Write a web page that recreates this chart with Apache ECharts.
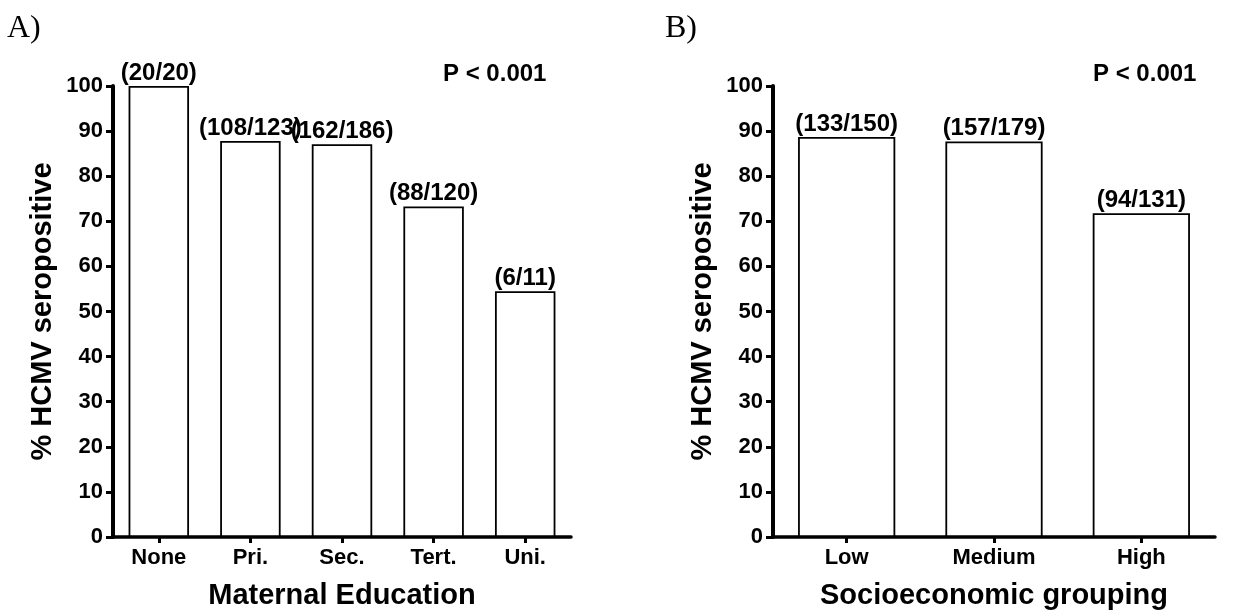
<!DOCTYPE html>
<html>
<head>
<meta charset="utf-8">
<script src="https://cdn.jsdelivr.net/npm/echarts@6/dist/echarts.min.js"></script>
<style>
html,body{margin:0;padding:0;background:#fff;}
#chart{width:1240px;height:615px;}
</style>
</head>
<body>
<div id="chart"></div>
<script>
// Panel A: maternal education
const eduCats = ['None', 'Pri.', 'Sec.', 'Tert.', 'Uni.'];
const eduPct = [100, 87.8, 87.1, 73.3, 54.5];
const eduLabels = ['(20/20)', '(108/123)', '(162/186)', '(88/120)', '(6/11)'];
// Panel B: socioeconomic grouping
const sesCats = ['Low', 'Medium', 'High'];
const sesPct = [88.7, 87.7, 71.8];
const sesLabels = ['(133/150)', '(157/179)', '(94/131)'];
const yTicks = [0, 10, 20, 30, 40, 50, 60, 70, 80, 90, 100];

const FONT = '"Liberation Sans", Arial, Helvetica, sans-serif';
const chart = echarts.init(document.getElementById('chart'), null, {renderer: 'canvas'});

function yAxisCfg(gridIndex) {
  return {
    type: 'value', gridIndex: gridIndex, min: yTicks[0], max: yTicks[yTicks.length - 1], interval: 10,
    name: '% HCMV seropositive', nameLocation: 'middle', nameGap: 56,
    nameTextStyle: {fontFamily: FONT, fontWeight: 'bold', fontSize: 29, color: '#000'},
    axisLine: {show: true, lineStyle: {color: '#000', width: 4}},
    axisTick: {show: true, length: 7, lineStyle: {color: '#000', width: 3}},
    axisLabel: {fontFamily: FONT, fontWeight: 'bold', fontSize: 22, color: '#000', margin: 10},
    splitLine: {show: false}
  };
}
function xAxisCfg(gridIndex, cats, name) {
  return {
    type: 'category', gridIndex: gridIndex, data: cats,
    name: name, nameLocation: 'middle', nameGap: 44,
    nameTextStyle: {fontFamily: FONT, fontWeight: 'bold', fontSize: 29, color: '#000'},
    axisLine: {show: true, lineStyle: {color: '#000', width: 3.5}},
    axisTick: {show: true, alignWithLabel: true, length: 6, lineStyle: {color: '#000', width: 3}},
    axisLabel: {fontFamily: FONT, fontWeight: 'bold', fontSize: 22, color: '#000', margin: 10},
    splitLine: {show: false}
  };
}
function barSeries(idx, data, labels) {
  return {
    type: 'bar', xAxisIndex: idx, yAxisIndex: idx, data: data, barWidth: '66%',
    itemStyle: {color: '#fff', borderColor: '#000', borderWidth: 1.8},
    label: {
      show: true, position: 'top', distance: 1,
      fontFamily: FONT, fontWeight: 'bold', fontSize: 24, color: '#000',
      formatter: function (p) { return labels[p.dataIndex]; }
    },
    silent: true, animation: false
  };
}

chart.setOption({
  backgroundColor: '#fff',
  animation: false,
  grid: [
    {left: 113, top: 86, width: 458, height: 452},
    {left: 773, top: 86, width: 442, height: 452}
  ],
  xAxis: [xAxisCfg(0, eduCats, 'Maternal Education'), xAxisCfg(1, sesCats, 'Socioeconomic grouping')],
  yAxis: [yAxisCfg(0), yAxisCfg(1)],
  series: [barSeries(0, eduPct, eduLabels), barSeries(1, sesPct, sesLabels)],
  graphic: [
    {type: 'text', left: 7, top: 13, style: {text: 'A)', font: '32px "Liberation Serif", "Times New Roman", serif', fill: '#000'}},
    {type: 'text', left: 665, top: 13, style: {text: 'B)', font: '32px "Liberation Serif", "Times New Roman", serif', fill: '#000'}},
    {type: 'text', left: 443, top: 62, style: {text: 'P < 0.001', font: 'bold 24px ' + FONT, fill: '#000'}},
    {type: 'text', left: 1093, top: 62, style: {text: 'P < 0.001', font: 'bold 24px ' + FONT, fill: '#000'}}
  ]
});
</script>
</body>
</html>
